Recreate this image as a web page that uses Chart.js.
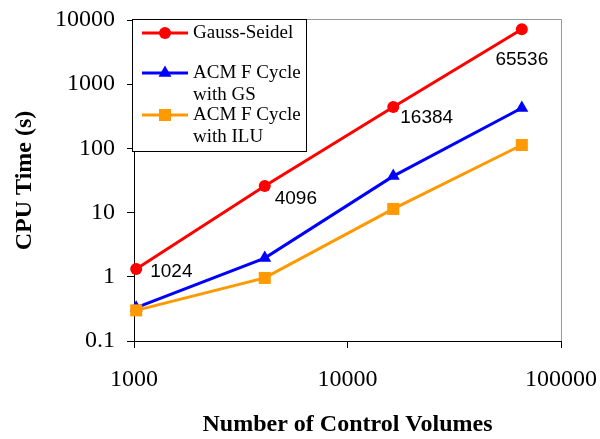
<!DOCTYPE html>
<html>
<head>
<meta charset="utf-8">
<script src="https://cdn.jsdelivr.net/npm/chart.js@4"></script>
<style>
html, body { margin: 0; padding: 0; background: #fff; }
</style>
</head>
<body>
<canvas id="myChart" width="600" height="439"></canvas>
<script>
// data
var controlVolumes = [1024, 4096, 16384, 65536];
var gaussSeidel = [1.32, 25.9, 440, 7200];
var acmGS = [0.33, 1.96, 37, 426];
var acmILU = [0.30, 0.96, 11.4, 113];
var pointLabels = ['1024', '4096', '16384', '65536'];
var xTicks = [1000, 10000, 100000];
var yTicks = [0.1, 1, 10, 100, 1000, 10000];

var serif = "'Liberation Serif', 'Times New Roman', serif";
var sans = "'Liberation Sans', Arial, sans-serif";

function toPoints(ys) {
	return controlVolumes.map(function (x, i) { return {x: x, y: ys[i]}; });
}

function makeSet(label, ys, color, style, radius, order) {
	return {
		label: label,
		data: toPoints(ys),
		borderColor: color,
		backgroundColor: color,
		borderWidth: 3,
		pointStyle: style,
		pointRadius: radius,
		pointHoverRadius: radius,
		pointBorderWidth: 0,
		tension: 0,
		clip: false,
		order: order
	};
}

// keep label overflow from pushing the plot area around
function noPadding(scale) {
	scale.paddingLeft = 0;
	scale.paddingRight = 0;
	scale.paddingTop = 0;
	scale.paddingBottom = 0;
}

// grey top / right frame
var framePlugin = {
	id: 'frame',
	beforeDatasetsDraw: function (chart) {
		var ctx = chart.ctx, ca = chart.chartArea;
		ctx.save();
		ctx.strokeStyle = '#999';
		ctx.lineWidth = 1;
		ctx.beginPath();
		ctx.moveTo(ca.left, ca.top - 0.5);
		ctx.lineTo(ca.right + 0.5, ca.top - 0.5);
		ctx.lineTo(ca.right + 0.5, ca.bottom);
		ctx.stroke();
		ctx.restore();
	}
};

// number labels next to the Gauss-Seidel points
var labelOffsets = [[14, 3, 'left'], [10, 13, 'left'], [7, 11, 'left'], [0, 31, 'center']];
var pointLabelPlugin = {
	id: 'pointLabels',
	afterDatasetsDraw: function (chart) {
		var ctx = chart.ctx;
		var meta = chart.getDatasetMeta(0);
		ctx.save();
		ctx.font = '19px ' + sans;
		ctx.fillStyle = '#000';
		ctx.textBaseline = 'middle';
		meta.data.forEach(function (pt, i) {
			var o = labelOffsets[i];
			ctx.textAlign = o[2];
			ctx.fillText(pointLabels[i], pt.x + o[0], pt.y + o[1]);
		});
		ctx.restore();
	}
};

// boxed legend inside the plot
var legendRows = [13, 53, 95];
var legendPlugin = {
	id: 'boxLegend',
	afterDraw: function (chart) {
		var ctx = chart.ctx, ca = chart.chartArea;
		var left = ca.left - 2, top = ca.top - 1;
		ctx.save();
		ctx.fillStyle = '#fff';
		ctx.fillRect(left, top, 175, 133);
		ctx.strokeStyle = '#000';
		ctx.lineWidth = 1;
		ctx.strokeRect(left + 0.5, top + 0.5, 174, 132);
		chart.data.datasets.forEach(function (ds, i) {
			var y = ca.top + legendRows[i];
			ctx.strokeStyle = ds.borderColor;
			ctx.fillStyle = ds.backgroundColor;
			ctx.lineWidth = 3;
			ctx.beginPath();
			ctx.moveTo(ca.left + 8, y);
			ctx.lineTo(ca.left + 54, y);
			ctx.stroke();
			Chart.helpers.drawPoint(ctx, {pointStyle: ds.pointStyle, radius: ds.pointRadius, borderWidth: 0, rotation: 0}, ca.left + 31, y);
			ctx.fillStyle = '#000';
			ctx.font = '19px ' + serif;
			ctx.textAlign = 'left';
			ctx.textBaseline = 'middle';
			ds.label.split('\n').forEach(function (line, j) {
				ctx.fillText(line, ca.left + 59, y + j * 22);
			});
		});
		ctx.restore();
	}
};

var ctx = document.getElementById('myChart').getContext('2d');
var myChart = new Chart(ctx, {
	type: 'line',
	data: {
		datasets: [
			makeSet('Gauss-Seidel', gaussSeidel, '#ff0000', 'circle', 6, 0),
			makeSet('ACM F Cycle\nwith GS', acmGS, '#0000ff', 'triangle', 7.5, 2),
			makeSet('ACM F Cycle\nwith ILU', acmILU, '#ff9900', 'rect', 8.5, 1)
		]
	},
	options: {
		responsive: false,
		animation: false,
		layout: {autoPadding: false, padding: {top: 20, right: 39, bottom: 0, left: 0}},
		plugins: {legend: {display: false}, tooltip: {enabled: false}},
		scales: {
			x: {
				type: 'logarithmic',
				min: 1000,
				max: 100000,
				afterBuildTicks: function (scale) {
					scale.ticks = xTicks.map(function (v) { return {value: v}; });
				},
				afterFit: function (scale) { scale.height = 98; noPadding(scale); },
				ticks: {
					callback: function (v) { return String(v); },
					font: {family: serif, size: 24},
					color: '#000',
					padding: 17,
					maxRotation: 0,
					autoSkip: false
				},
				grid: {drawOnChartArea: false, drawTicks: true, tickLength: 7, color: '#000'},
				border: {color: '#000', width: 1},
				title: {
					display: true,
					text: 'Number of Control Volumes',
					font: {family: serif, size: 24, weight: 'bold'},
					color: '#000',
					padding: {top: 0, bottom: 0}
				}
			},
			y: {
				type: 'logarithmic',
				min: 0.1,
				max: 10000,
				afterBuildTicks: function (scale) {
					scale.ticks = yTicks.map(function (v) { return {value: v}; });
				},
				afterFit: function (scale) { scale.width = 134; noPadding(scale); },
				ticks: {
					callback: function (v) { return String(v); },
					font: {family: serif, size: 24},
					color: '#000',
					padding: 12,
					autoSkip: false
				},
				grid: {drawOnChartArea: false, drawTicks: true, tickLength: 7, color: '#000'},
				border: {color: '#000', width: 1},
				title: {
					display: true,
					text: 'CPU Time (s)',
					font: {family: serif, size: 24, weight: 'bold'},
					color: '#000',
					padding: {top: 10, bottom: 0}
				}
			}
		}
	},
	plugins: [framePlugin, pointLabelPlugin, legendPlugin]
});
</script>
</body>
</html>
